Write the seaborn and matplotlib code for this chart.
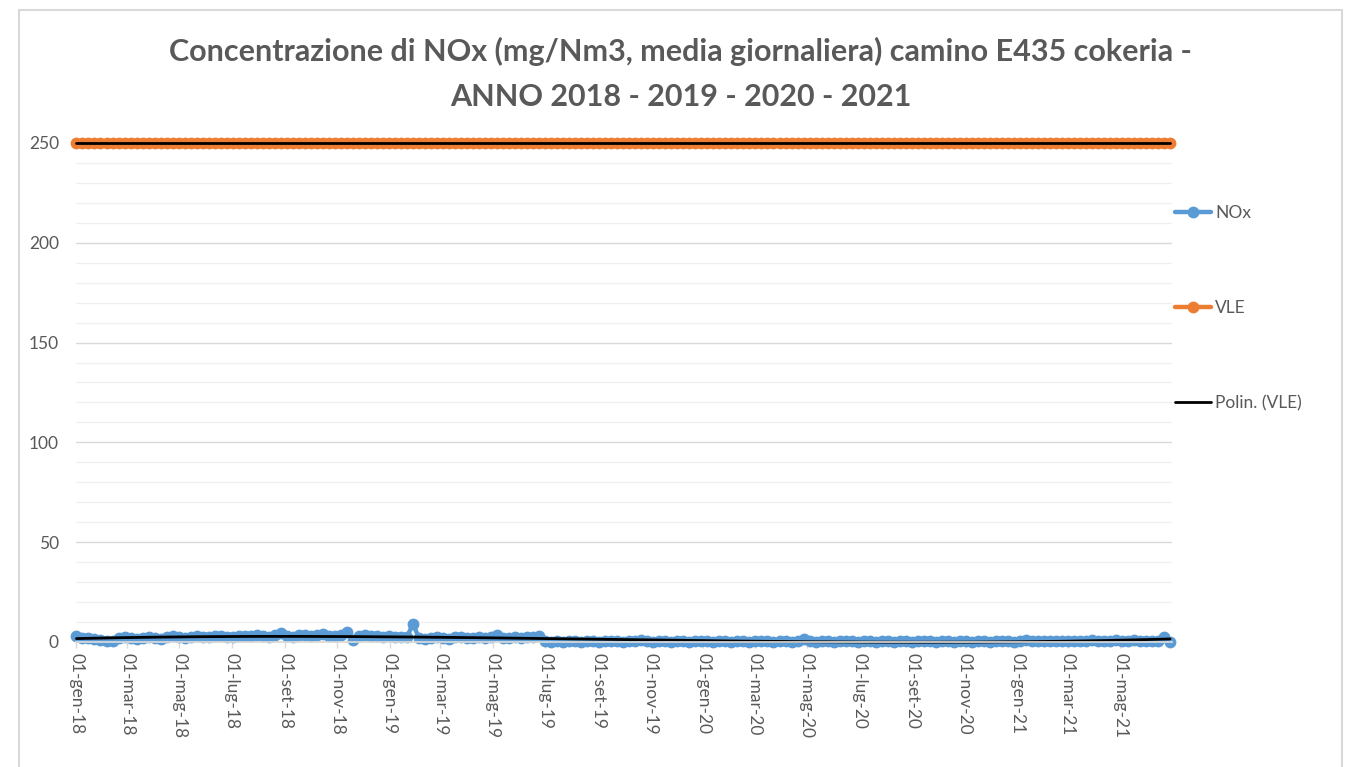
import matplotlib
matplotlib.use("Agg")
import matplotlib.pyplot as plt
import matplotlib.dates as mdates
from matplotlib.lines import Line2D
from matplotlib.patches import Rectangle
import numpy as np
import pandas as pd
import seaborn as sns


# Weekly NOx readings (mg/Nm3)
nox_2018 = [2.8, 2.2, 1.8, 1.5, 1.0, 0.3, 0.6, 1.8, 2.5, 1.9,
            1.4, 2.2, 2.6, 2.0, 1.7, 2.4, 2.9, 2.5, 2.1, 2.7,
            3.0, 2.6, 2.3, 2.8, 3.1, 2.7, 2.4, 2.9, 3.2, 2.8,
            3.4, 3.0, 2.6, 3.5, 4.3, 3.1, 2.7, 3.3, 3.6, 2.9,
            3.4, 4.0, 3.2, 2.8, 3.5, 5.2, 1.0, 3.0, 3.4, 2.8,
            3.2, 2.6, 2.9]
nox_2019 = [2.7, 2.3, 2.5, 9.0, 2.0, 1.6, 1.9, 2.4, 2.1, 1.7,
            2.3, 2.6, 2.2, 1.8, 2.4, 2.0, 2.7, 3.3, 2.2, 1.9,
            2.5, 2.1, 2.6, 2.3, 3.0,
            0.4, 0.2, 0.3, 0.1, 0.3, 0.5, 0.2, 0.3, 0.4, 0.2,
            0.3, 0.6, 0.3, 0.2, 0.4, 0.3, 0.8, 0.3, 0.2, 0.4,
            0.3, 0.2, 0.3, 0.5, 0.2, 0.3, 0.4]
nox_2020 = [0.3, 0.2, 0.4, 0.3, 0.2, 0.3, 0.5, 0.2, 0.3, 0.4,
            0.3, 0.2, 0.3, 0.4, 0.2, 0.3, 1.4, 0.3, 0.2, 0.4,
            0.3, 0.2, 0.3, 0.5, 0.3, 0.2, 0.3, 0.4, 0.2, 0.3,
            0.3, 0.2, 0.4, 0.3, 0.2, 0.3, 0.6, 0.3, 0.2, 0.3,
            0.4, 0.2, 0.3, 0.3, 0.2, 0.4, 0.3, 0.2, 0.3, 0.4,
            0.3, 0.2]
nox_2021 = [0.4, 1.2, 0.3, 0.5, 0.4, 0.3, 0.5, 0.4, 0.3, 0.5,
            0.4, 0.6, 1.1, 0.4, 0.5, 0.3, 1.0, 0.4, 0.5, 0.9,
            0.4, 0.3, 0.5, 0.4, 2.6, 0.0]

vle_limit = 250  # emission limit value, mg/Nm3

it_months = ["gen", "feb", "mar", "apr", "mag", "giu",
             "lug", "ago", "set", "ott", "nov", "dic"]

title = ("Concentrazione di NOx (mg/Nm3, media giornaliera) camino E435 cokeria -\n"
         "ANNO 2018 - 2019 - 2020 - 2021")

nox = nox_2018 + nox_2019 + nox_2020 + nox_2021
dates = pd.date_range("2018-01-01", periods=len(nox), freq="7D")
df = pd.DataFrame({"data": dates, "NOx": nox, "VLE": [vle_limit] * len(nox)})

# Excel-style polynomial trendlines
days = (df["data"] - df["data"].iloc[0]).dt.days.to_numpy()
df["trend_nox"] = np.polyval(np.polyfit(days, df["NOx"], 3), days)
df["trend_vle"] = np.polyval(np.polyfit(days, df["VLE"], 2), days)

blue = "#5B9BD5"
orange = "#ED7D31"
grey_txt = "#595959"
msize = 8.5

sns.set_theme(style="white")
plt.rcParams["font.family"] = ["Lato", "DejaVu Sans"]

fig = plt.figure(figsize=(13.5, 7.67), dpi=100)
ax = fig.add_axes([0.056, 0.163, 0.812, 0.6506])

sns.lineplot(data=df, x="data", y="NOx", ax=ax, color=blue, lw=3.2,
             marker="o", markersize=msize, markeredgewidth=0)
sns.lineplot(data=df, x="data", y="VLE", ax=ax, color=orange, lw=3.2,
             marker="o", markersize=msize, markeredgewidth=0)
sns.lineplot(data=df, x="data", y="trend_nox", ax=ax, color="black", lw=2.0)
sns.lineplot(data=df, x="data", y="trend_vle", ax=ax, color="black", lw=2.0)
for ln in ax.lines:
    ln.set_clip_on(False)

ax.set_ylim(0, 250)
ax.set_xlim(pd.Timestamp("2017-12-31"), pd.Timestamp("2021-06-30"))
ax.set_yticks(range(0, 251, 50))
ax.set_yticks(range(0, 251, 10), minor=True)
ax.grid(axis="y", which="major", color="#d9d9d9", lw=1)
ax.grid(axis="y", which="minor", color="#f0f0f0", lw=1)
ax.set_axisbelow(True)

ax.xaxis.set_major_locator(mdates.MonthLocator(bymonth=[1, 3, 5, 7, 9, 11]))
ax.xaxis.set_major_formatter(plt.FuncFormatter(
    lambda v, pos: "01-{}-{}".format(it_months[mdates.num2date(v).month - 1],
                                     mdates.num2date(v).strftime("%y"))))

ax.tick_params(axis="y", length=0, pad=12, labelsize=12.5, labelcolor=grey_txt)
ax.tick_params(axis="x", bottom=True, length=4, width=1, color="#d9d9d9",
               pad=4, labelsize=12.5, labelcolor=grey_txt, labelrotation=-90)
for lab in ax.get_xticklabels():
    lab.set_ha("center")

for side in ["top", "right", "left"]:
    ax.spines[side].set_visible(False)
ax.spines["bottom"].set_color("#d9d9d9")
ax.set_xlabel("")
ax.set_ylabel("")

handles = [
    Line2D([], [], color=blue, lw=3.2, marker="o", markersize=msize, markeredgewidth=0),
    Line2D([], [], color=orange, lw=3.2, marker="o", markersize=msize, markeredgewidth=0),
    Line2D([], [], color="black", lw=2.0),
]
fig.legend(handles, ["NOx", "VLE", "Polin. (VLE)"], loc="upper left",
           bbox_to_anchor=(1175 / 1350, 1 - 205 / 767), frameon=False,
           fontsize=12.5, labelcolor=grey_txt, handlelength=2.1,
           handletextpad=0.2, labelspacing=4.55, borderpad=0, borderaxespad=0)

fig.text(0.504, 1 - 74 / 767, title, ha="center", va="center",
         fontsize=22, fontweight="bold", color=grey_txt, linespacing=1.7)

fig.patches.append(Rectangle((19 / 1350, -0.02), 1323 / 1350, 1.007,
                             transform=fig.transFigure, fill=False,
                             edgecolor="#d9d9d9", lw=1.5))

fig.savefig("out.png", dpi=100)
